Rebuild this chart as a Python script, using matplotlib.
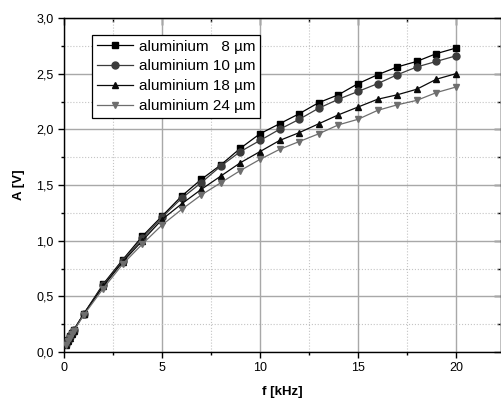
import matplotlib
matplotlib.use("Agg")
import matplotlib.pyplot as plt
from matplotlib.ticker import MultipleLocator, FuncFormatter, NullFormatter

plt.rcParams['font.family'] = ['Liberation Sans', 'DejaVu Sans']

f_khz = [0.1, 0.2, 0.3, 0.4, 0.5, 1, 2, 3, 4, 5, 6, 7, 8, 9, 10,
         11, 12, 13, 14, 15, 16, 17, 18, 19, 20]
a_8um = [0.07, 0.11, 0.14, 0.17, 0.20, 0.34, 0.61, 0.83, 1.04, 1.22, 1.40, 1.55, 1.68, 1.83, 1.96,
         2.05, 2.14, 2.24, 2.31, 2.41, 2.49, 2.56, 2.61, 2.68, 2.73]
a_10um = [0.07, 0.11, 0.14, 0.17, 0.20, 0.34, 0.60, 0.82, 1.02, 1.21, 1.38, 1.52, 1.67, 1.80, 1.90,
          2.00, 2.09, 2.19, 2.27, 2.34, 2.41, 2.49, 2.56, 2.61, 2.66]
a_18um = [0.06, 0.10, 0.13, 0.16, 0.19, 0.34, 0.59, 0.81, 1.00, 1.19, 1.33, 1.46, 1.58, 1.70, 1.80,
          1.90, 1.97, 2.05, 2.13, 2.20, 2.27, 2.31, 2.36, 2.45, 2.50]
a_24um = [0.06, 0.10, 0.13, 0.16, 0.19, 0.33, 0.57, 0.79, 0.97, 1.14, 1.28, 1.41, 1.52, 1.63, 1.73,
          1.82, 1.89, 1.96, 2.04, 2.09, 2.17, 2.22, 2.26, 2.33, 2.38]
labels = ["aluminium \u20078 µm", "aluminium 10 µm", "aluminium 18 µm", "aluminium 24 µm"]

fig = plt.figure(figsize=(5.02, 4.01), dpi=100)
ax = fig.add_axes([64/502, 49/401, (501-64)/502, (352-18)/401])

series = [
    (a_8um, 's', '#000000'),
    (a_10um, 'o', '#3c3c3c'),
    (a_18um, '^', '#0a0a0a'),
    (a_24um, 'v', '#6e6e6e'),
]
for (vals, mk, col), lab in zip(series, labels):
    ax.plot(f_khz, vals, marker=mk, color=col, lw=0.9, ms=5, label=lab, zorder=3)

ax.set_xlim(0, 22.3)
ax.set_ylim(0, 3.0)
ax.xaxis.set_major_locator(MultipleLocator(5))
ax.xaxis.set_minor_locator(MultipleLocator(2.5))
ax.yaxis.set_major_locator(MultipleLocator(0.5))
ax.yaxis.set_minor_locator(MultipleLocator(0.25))
ax.xaxis.set_major_formatter(FuncFormatter(lambda v, p: f"{v:.0f}"))
ax.yaxis.set_major_formatter(FuncFormatter(lambda v, p: f"{v:.1f}".replace('.', ',')))

ax.grid(which='major', color='#a8a8a8', lw=1.0, ls='-', zorder=0)
ax.grid(which='minor', color='#c4c4c4', lw=0.8, ls=':', zorder=0)
ax.set_axisbelow(True)

ax.tick_params(which='both', direction='out', labelsize=9, width=1.0, color='black')
ax.tick_params(which='major', length=4)
ax.tick_params(which='minor', length=2.5)
for sp in ax.spines.values():
    sp.set_linewidth(1.0)

# mirrored top/right axes with inward ticks
top = ax.secondary_xaxis('top')
top.xaxis.set_major_locator(MultipleLocator(5))
top.xaxis.set_minor_locator(MultipleLocator(2.5))
top.xaxis.set_major_formatter(NullFormatter())
top.tick_params(which='both', direction='in', width=1.0)
top.tick_params(which='major', length=5)
top.tick_params(which='minor', length=3)
right = ax.secondary_yaxis('right')
right.yaxis.set_major_locator(MultipleLocator(0.5))
right.yaxis.set_minor_locator(MultipleLocator(0.25))
right.yaxis.set_major_formatter(NullFormatter())
right.tick_params(which='both', direction='in', width=1.0)
right.tick_params(which='major', length=5)
right.tick_params(which='minor', length=3)

ax.set_xlabel("f [kHz]", fontsize=9.5, fontweight='bold', labelpad=8)
ax.set_ylabel("A [V]", fontsize=9.5, fontweight='bold', labelpad=8)

leg = ax.legend(loc='upper left', bbox_to_anchor=((92-64)/437, 1 - (35-18)/334), fontsize=11,
                frameon=True, fancybox=False, edgecolor='black', framealpha=1,
                handlelength=2.4, borderpad=0.3, labelspacing=0.38, handletextpad=0.35,
                borderaxespad=0)
leg.get_frame().set_linewidth(0.9)

fig.savefig("out.png", dpi=100)
